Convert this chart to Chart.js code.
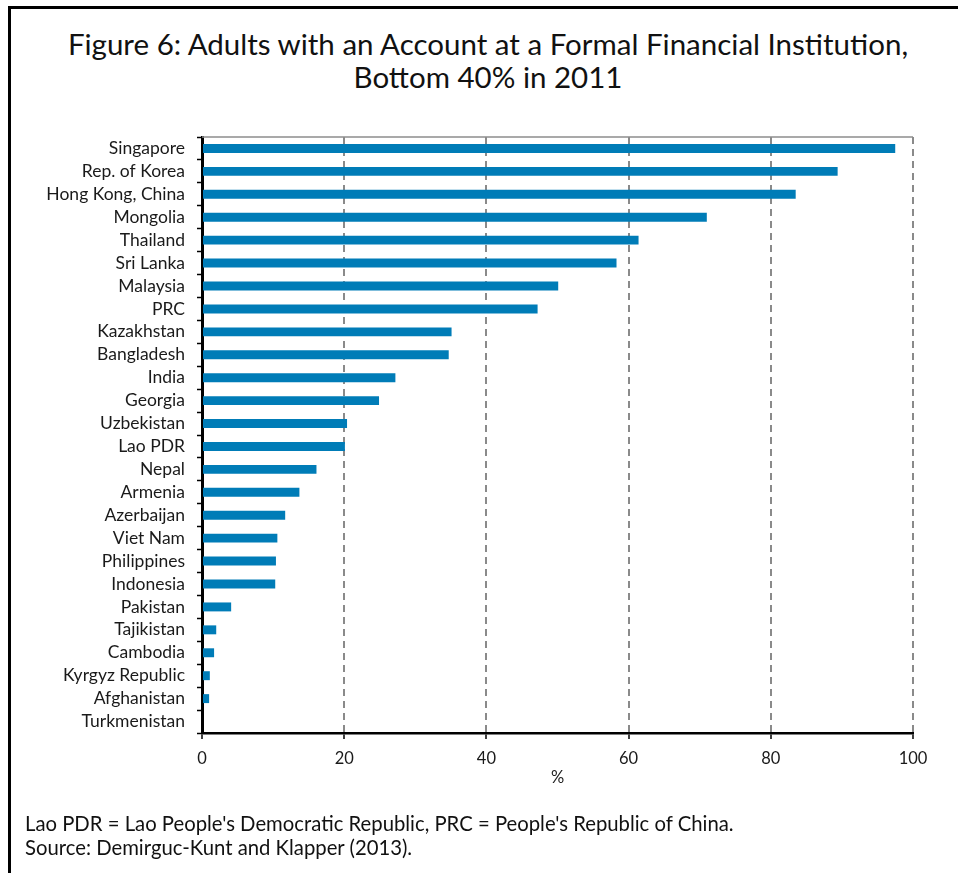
<!DOCTYPE html>
<html>
<head>
<meta charset="utf-8">
<script src="https://cdn.jsdelivr.net/npm/chart.js@4.4.1/dist/chart.umd.min.js"></script>
<style>
  html, body { margin: 0; padding: 0; background: #fff; }
  #wrap { position: relative; width: 958px; height: 873px; overflow: hidden; font-family: Lato, "Open Sans", sans-serif; color: #1a1a1a; }
  #frame { position: absolute; left: 8px; top: 6px; width: 960px; height: 880px; border-left: 3px solid #000; border-top: 3px solid #000; box-sizing: border-box; }
  #title { position: absolute; left: 20px; width: 936px; top: 27px; text-align: center; font-size: 29.5px; line-height: 33px; color: #111; }
  #note { position: absolute; left: 25px; top: 811px; font-size: 20.3px; line-height: 24px; color: #111; }
  #c { position: absolute; left: 0; top: 0; }
</style>
</head>
<body>
<div id="wrap">
  <div id="frame"></div>
  <div id="title">Figure 6: Adults with an Account at a Formal Financial Institution,<br>Bottom 40% in 2011</div>
  <canvas id="c" width="958" height="873"></canvas>
  <div id="note">Lao PDR = Lao People's Democratic Republic, PRC = People's Republic of China.<br>Source: Demirguc-Kunt and Klapper (2013).</div>
</div>
<script>
const categories = ["Singapore","Rep. of Korea","Hong Kong, China","Mongolia","Thailand","Sri Lanka","Malaysia","PRC","Kazakhstan","Bangladesh","India","Georgia","Uzbekistan","Lao PDR","Nepal","Armenia","Azerbaijan","Viet Nam","Philippines","Indonesia","Pakistan","Tajikistan","Cambodia","Kyrgyz Republic","Afghanistan","Turkmenistan"];
const values = [97.5,89.4,83.5,71.0,61.4,58.3,50.1,47.2,35.1,34.7,27.2,24.9,20.4,20.1,16.1,13.7,11.7,10.6,10.4,10.3,4.1,2.0,1.7,1.1,1.0,0];
const xTicks = [0,20,40,60,80,100];
const xAxisTitle = "%";

const topBorder = {
  id: 'topBorder',
  afterDraw(chart) {
    const a = chart.chartArea, ctx = chart.ctx;
    ctx.save();
    ctx.strokeStyle = '#8c8c8c';
    ctx.lineWidth = 1.5;
    ctx.beginPath();
    ctx.moveTo(a.left, a.top);
    ctx.lineTo(a.right, a.top);
    ctx.stroke();
    ctx.restore();
  }
};

new Chart(document.getElementById('c'), {
  type: 'bar',
  data: {
    labels: categories,
    datasets: [{
      data: values,
      backgroundColor: '#007cb7',
      borderWidth: 0,
      categoryPercentage: 1.0,
      barPercentage: 0.39
    }]
  },
  plugins: [topBorder],
  options: {
    indexAxis: 'y',
    responsive: false,
    animation: false,
    devicePixelRatio: 1,
    layout: { padding: { left: 10, right: 45, top: 137, bottom: 85 } },
    plugins: { legend: { display: false }, title: { display: false }, tooltip: { enabled: false } },
    scales: {
      x: {
        min: 0, max: 100,
        afterBuildTicks(scale) { scale.ticks = xTicks.map(v => ({ value: v })); },
        afterFit(scale) { scale.height = 55; },
        grid: {
          color: '#8a8a8a',
          lineWidth: 2,
          drawTicks: true,
          tickLength: 6,
          tickColor: '#000',
          tickWidth: 1.5,
          tickBorderDash: []
        },
        border: { display: true, color: '#000', width: 2.5, dash: [7, 5] },
        ticks: { color: '#1a1a1a', padding: 10, font: { family: 'Lato', size: 16.5 } },
        title: { display: true, text: xAxisTitle, color: '#1a1a1a', padding: 0, font: { family: 'Lato', size: 16.5 } }
      },
      y: {
        afterFit(scale) { scale.width = 192; },
        grid: {
          offset: true,
          drawOnChartArea: false,
          drawTicks: true,
          tickLength: 5,
          tickColor: '#000',
          tickWidth: 1.5
        },
        border: { display: true, color: '#000', width: 3 },
        ticks: { color: '#1a1a1a', padding: 12, autoSkip: false, font: { family: 'Lato', size: 17.5 } }
      }
    }
  }
});
</script>
</body>
</html>
